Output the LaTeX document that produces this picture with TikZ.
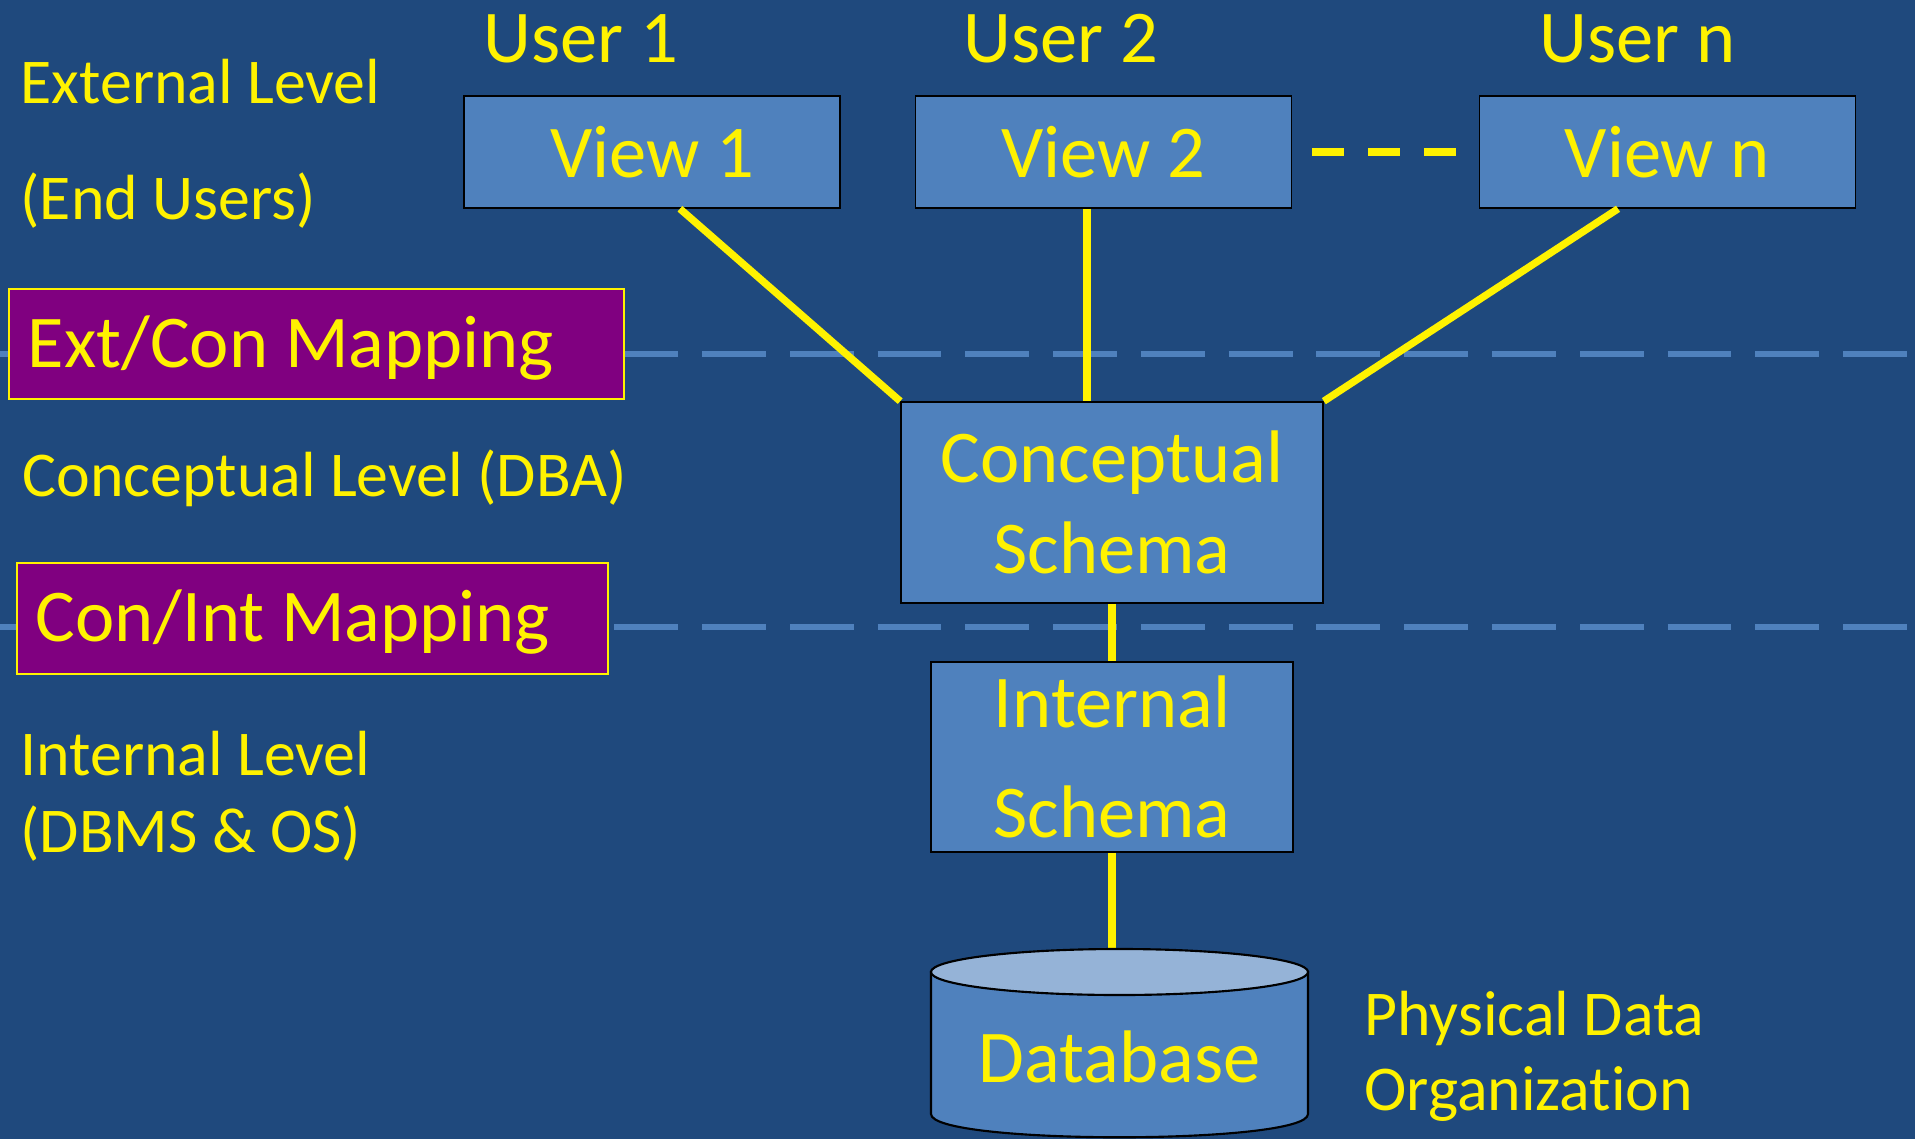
\documentclass[tikz,border=0pt]{standalone}
\usepackage{fontspec}
\setmainfont{Carlito}[Ligatures=NoCommon]
\usepackage{tikz}

\definecolor{slidebg}{HTML}{1F497D}
\definecolor{boxblue}{HTML}{4F81BD}
\definecolor{toplight}{HTML}{95B3D7}
\definecolor{mapviolet}{HTML}{800080}

\begin{document}
\begin{tikzpicture}[x=0.376pt, y=-0.376pt]

\tikzset{
    level/.style={text=yellow, font=\fontsize{24}{29}\selectfont, anchor=base west, inner sep=0},
    user/.style={text=yellow, font=\fontsize{28}{34}\selectfont, anchor=base west, inner sep=0},
    schema/.style={draw=black, line width=0.6pt, fill=boxblue, text=yellow, font=\fontsize{28}{34}\selectfont, align=center, inner sep=0},
    mapping/.style={draw=yellow, line width=0.8pt, fill=mapviolet, text=yellow, font=\fontsize{28}{34}\selectfont, align=flush left, inner xsep=7pt, inner ysep=0, text depth=2pt},
    link/.style={yellow, line width=2.75pt},
    divider/.style={boxblue, line width=2.6pt, dash pattern=on 24pt off 9pt}
}

\fill[slidebg] (0,0) rectangle (1915,1139);
\useasboundingbox (0,0) rectangle (1915,1139);

% level lines
\draw[divider] (0,354) -- (1915,354);
\draw[divider] (0,627) -- (1915,627);

% users and their views
\node[user] (user1) at (483,63) {User 1};
\node[user] (user2) at (963,63) {User 2};
\node[user] (usern) at (1539,63) {User n};

\node[schema, minimum width=141.4pt, minimum height=42.1pt] (view1) at (652,152) {View 1};
\node[schema, minimum width=141.4pt, minimum height=42.1pt] (view2) at (1103.5,152) {View 2};
\node[schema, minimum width=141.4pt, minimum height=42.1pt] (viewn) at (1667.5,152) {View n};
\draw[yellow, line width=3pt, dash pattern=on 12pt off 9pt] ([xshift=7.5pt]view2.east) -- ([xshift=-8.3pt]viewn.west);

\node[level] (extlvl) at (20,104) {External Level};
\node[level] (extwho) at (20,220) {(End Users)};
\node[level] (conlvl) at (22,496) {Conceptual Level (DBA)};
\node[level] (intlvl) at (20,775) {Internal Level};
\node[level] (intwho) at (20,852) {(DBMS \& OS)};
\node[level] (physlvl) at (1364,1035) {Physical Data};
\node[level] (physorg) at (1364,1110) {Organization};

\node[mapping, text width=217.2pt, minimum height=41.4pt] (extcon) at (316.5,344) {Ext/Con Mapping};
\node[mapping, text width=208.2pt, minimum height=41.7pt] (conint) at (312.5,618.5) {Con/Int Mapping};

\node[schema, minimum width=158.7pt, minimum height=75.6pt] (concept) at (1112,502.5) {Conceptual\\Schema};
\node[schema, minimum width=136.1pt, minimum height=71.4pt] (internal) at (1112,757) {Internal\\[7.5pt]Schema};
\coordinate (dbtop) at (1119.5,949);

\draw[link] ([xshift=10.5pt]view1.south) -- (concept.north west);
\draw[link] ([xshift=-6.2pt]view2.south) -- ([xshift=-6.2pt]view2.south |- concept.north);
\draw[link] ([xshift=-18.6pt]viewn.south) -- (concept.north east);
\draw[link] (concept.south) -- (internal.north);
\draw[link] (internal.south) -- (internal.south |- dbtop);

% database drum
\filldraw[fill=boxblue, draw=black, line width=0.8pt] (931,972) -- (931,1114) .. controls (931,1145) and (1308,1145) .. (1308,1114) -- (1308,972) -- cycle;
\filldraw[fill=toplight, draw=black, line width=0.8pt] (1119.5,972) ellipse [x radius=70.9pt, y radius=8.65pt];
\node[text=yellow, font=\fontsize{28}{34}\selectfont, inner sep=0] (db) at (1119.5,1057) {Database};

\end{tikzpicture}
\end{document}
